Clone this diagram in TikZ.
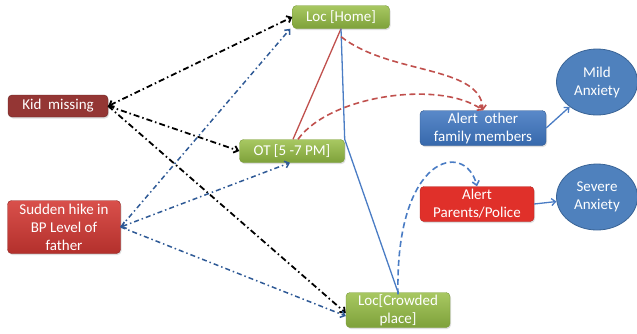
\documentclass[tikz,border=0pt]{standalone}
\usepackage{fontspec}
\setmainfont{Carlito}
\usepackage{xcolor}
\usetikzlibrary{arrows.meta,positioning,shapes.geometric,shadows}

\definecolor{greentop}{HTML}{A8C862}
\definecolor{greenbot}{HTML}{7EA13A}
\definecolor{greenline}{HTML}{789A38}
\definecolor{kidred}{HTML}{943634}
\definecolor{hiketop}{HTML}{D9504B}
\definecolor{hikebot}{HTML}{B3302C}
\definecolor{alertblue}{HTML}{3C74BF}
\definecolor{alertred}{HTML}{E0302A}
\definecolor{ellblue}{HTML}{4F81BD}
\definecolor{ellline}{HTML}{3A6496}
\definecolor{lineblue}{HTML}{4A7CC4}
\definecolor{dashblue}{HTML}{2F5A96}
\definecolor{linered}{HTML}{C0504D}

\begin{document}
\begin{tikzpicture}[
  x=1pt, y=-1pt,
  box/.style={draw, rounded corners=4pt, align=center, inner sep=1pt, text=white,
    font=\fontsize{15}{18}\selectfont,
    drop shadow={opacity=0.25, shadow xshift=1pt, shadow yshift=-1.5pt}},
  greenbox/.style={box, draw=greenline, top color=greentop, bottom color=greenbot},
  ell/.style={ellipse, draw=ellline, thick, fill=ellblue, align=center, text=white,
    font=\fontsize{15}{18}\selectfont, minimum width=81pt, minimum height=66pt, inner sep=0pt},
  blkdd/.style={line width=1.8pt, dash pattern=on 6pt off 3pt on 1.5pt off 3pt, -{Straight Barb[length=4pt,width=7pt]}},
  bludd/.style={dashblue, line width=1.5pt, dash pattern=on 5pt off 3pt on 1.5pt off 3pt, -{Straight Barb[length=4pt,width=7pt]}},
  reddash/.style={linered, line width=1.6pt, dash pattern=on 6pt off 3.5pt, -{Straight Barb[length=4pt,width=7pt]}},
  bluedash/.style={lineblue, line width=1.6pt, dash pattern=on 6pt off 3.5pt, -{Straight Barb[length=4pt,width=7pt]}},
  arr/.style={lineblue, line width=1.3pt, -{Straight Barb[length=4pt,width=7pt]}}
]
\useasboundingbox (0,0) rectangle (637,333);

% nodes
\node[greenbox, minimum width=97pt, minimum height=23pt] (home) at (341,17) {Loc [Home]};
\node[box, draw=kidred!70!black, fill=kidred, minimum width=100pt, minimum height=22pt] (kid) at (58,106) {Kid~ missing};
\node[greenbox, minimum width=105pt, minimum height=23pt] (ot) at (292,151) {OT [5 -7 PM]};
\node[box, draw=hikebot!80!black, top color=hiketop, bottom color=hikebot, minimum width=113pt, minimum height=53pt] (hike) at (64,227) {Sudden hike in\\BP Level of\\father};
\node[greenbox, minimum width=104pt, minimum height=35pt] (crowd) at (398,310) {Loc[Crowded\\place]};
\node[box, draw=alertblue!75!black, top color=alertblue!85!white, bottom color=alertblue!90!black, minimum width=126pt, minimum height=35pt] (family) at (483,128) {Alert~ other\\family members};
\node[box, draw=alertred!80!black, fill=alertred, minimum width=114pt, minimum height=35pt] (police) at (477,204) {Alert\\Parents/Police};
\node[ell] (mild) at (597,82) {Mild\\Anxiety};
\node[ell] (severe) at (597,197) {Severe\\Anxiety};

% solid links
\draw[linered, line width=1.3pt] ([xshift=1pt]ot.north) -- (home.south);
\draw[lineblue, line width=1.3pt] (home.south) -- (ot.north east) -- (crowd.north);

% dash-dot links
\draw[blkdd, {Straight Barb[length=4pt,width=7pt]}-{Straight Barb[length=4pt,width=7pt]}] (kid.east) -- (home.west);
\draw[blkdd] (kid.east) -- (ot.west);
\draw[blkdd] (kid.east) -- ([yshift=-3pt]crowd.west);
\draw[bludd] (hike.east) -- ([xshift=-2pt]home.south west);
\draw[bludd, {Straight Barb[length=4pt,width=7pt]}-{Straight Barb[length=4pt,width=7pt]}] (hike.east) -- ([xshift=-2pt]ot.south);
\draw[bludd] (hike.east) -- ([yshift=-6pt]crowd.west);

% dashed curves
\draw[reddash] ([yshift=-8pt]home.south) .. controls (390,75) and (480,65) .. (family.north);
\draw[reddash] ([xshift=6pt]ot.north) .. controls (330,95) and (440,80) .. (family.north);
\draw[bluedash] ([yshift=-2pt]crowd.north) .. controls (395,155) and (465,140) .. (police.north);

% outcomes
\draw[arr] (family.east) -- (mild);
\draw[arr] (police.east) -- (severe);
\end{tikzpicture}
\end{document}
